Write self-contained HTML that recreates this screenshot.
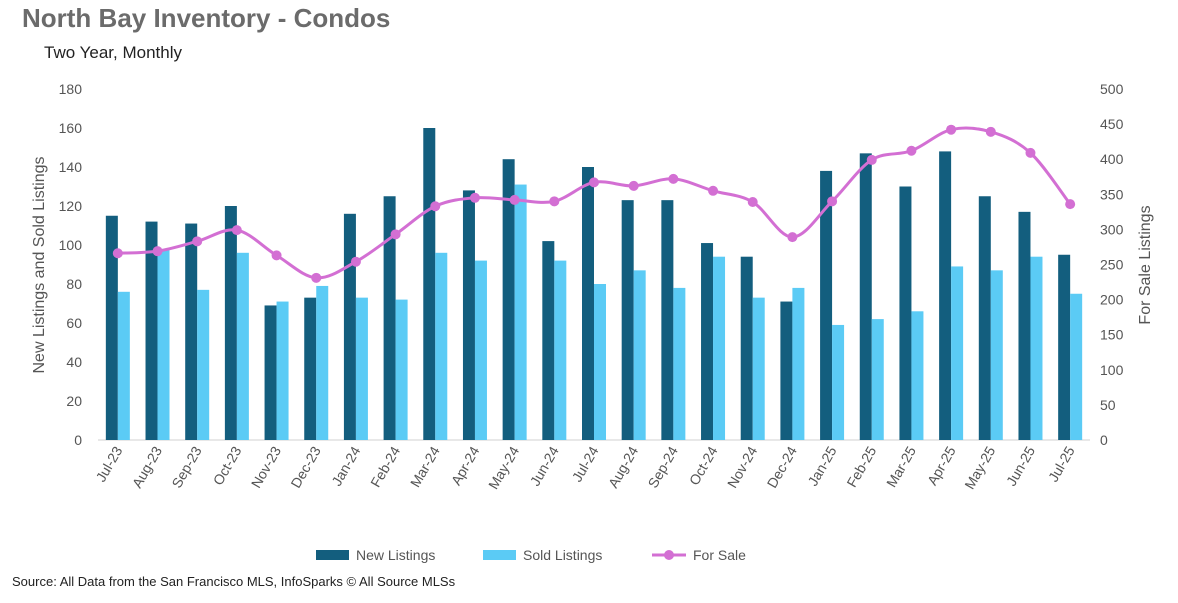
<!DOCTYPE html>
<html><head><meta charset="utf-8"><style>
body{margin:0;background:#fff;font-family:"Liberation Sans",sans-serif;}
svg text{font-family:"Liberation Sans",sans-serif;}
</style></head><body>
<svg id="c" width="1178" height="598">
<text x="22" y="27" font-size="26" font-weight="bold" fill="#6b6b6b">North Bay Inventory - Condos</text>
<text x="44" y="58" font-size="17" fill="#222">Two Year, Monthly</text>
<text transform="translate(44,265) rotate(-90)" text-anchor="middle" font-size="16" fill="#555">New Listings and Sold Listings</text>
<text transform="translate(1150,265) rotate(-90)" text-anchor="middle" font-size="16" fill="#555">For Sale Listings</text>
<g id="g"></g>
<g>
<rect x="316" y="550" width="33" height="10" fill="#135e7e"/>
<text x="356" y="560" font-size="14" fill="#555">New Listings</text>
<rect x="483" y="550" width="33" height="10" fill="#5bcbf5"/>
<text x="523" y="560" font-size="14" fill="#555">Sold Listings</text>
<line x1="652" y1="555" x2="686" y2="555" stroke="#d36fd3" stroke-width="3"/>
<circle cx="669" cy="555" r="5" fill="#d36fd3"/>
<text x="693" y="560" font-size="14" fill="#555">For Sale</text>
</g>
<text x="12" y="586" font-size="13" fill="#222">Source: All Data from the San Francisco MLS, InfoSparks © All Source MLSs</text>
</svg>
<script>
const categories=["Jul-23","Aug-23","Sep-23","Oct-23","Nov-23","Dec-23","Jan-24","Feb-24","Mar-24","Apr-24","May-24","Jun-24","Jul-24","Aug-24","Sep-24","Oct-24","Nov-24","Dec-24","Jan-25","Feb-25","Mar-25","Apr-25","May-25","Jun-25","Jul-25"];
const newListings=[115,112,111,120,69,73,116,125,160,128,144,102,140,123,123,101,94,71,138,147,130,148,125,117,95];
const soldListings=[76,98,77,96,71,79,73,72,96,92,131,92,80,87,78,94,73,78,59,62,66,89,87,94,75];
const forSale=[266,269,283,299,263,231,254,293,333,345,342,340,367,362,372,355,339,289,340,399,412,442,439,409,336];
const leftTicks=[0,20,40,60,80,100,120,140,160,180];
const rightTicks=[0,50,100,150,200,250,300,350,400,450,500];
const NS="http://www.w3.org/2000/svg",g=document.getElementById('g');
const X0=98,X1=1090,Y0=440,Y1=89,step=(X1-X0)/categories.length;
const xc=i=>X0+step*(i+0.5);
const yl=v=>Y0-(v/180)*(Y0-Y1);
const yr=v=>Y0-(v/500)*(Y0-Y1);
function mk(t,a){const e=document.createElementNS(NS,t);for(const k in a)e.setAttribute(k,a[k]);g.appendChild(e);return e;}
leftTicks.forEach(v=>{const t=mk('text',{x:82,y:yl(v)+5,'text-anchor':'end','font-size':14,fill:'#555'});t.textContent=v;

});
rightTicks.forEach(v=>{const t=mk('text',{x:1100,y:yr(v)+5,'font-size':14,fill:'#555'});t.textContent=v;

});
const ax=mk('line',{x1:X0,x2:X1,y1:Y0,y2:Y0,stroke:'#d0d0d0'});


const bw=12;
categories.forEach((c,i)=>{
 const b1=mk('rect',{x:xc(i)-bw,y:yl(newListings[i]),width:bw,height:Y0-yl(newListings[i]),fill:'#135e7e'});
 
 
 const b2=mk('rect',{x:xc(i),y:yl(soldListings[i]),width:bw,height:Y0-yl(soldListings[i]),fill:'#5bcbf5'});
 
 
 const t=mk('text',{transform:`translate(${xc(i)+5},450) rotate(-60)`,'text-anchor':'end','font-size':14,fill:'#555'});
 t.textContent=c;
 
 
});
const pts=forSale.map((v,i)=>[xc(i),yr(v)]);
let d=`M${pts[0][0]},${pts[0][1]}`;
for(let i=0;i<pts.length-1;i++){const p0=pts[Math.max(0,i-1)],p1=pts[i],p2=pts[i+1],p3=pts[Math.min(pts.length-1,i+2)];
 d+=` C${p1[0]+(p2[0]-p0[0])/6},${p1[1]+(p2[1]-p0[1])/6} ${p2[0]-(p3[0]-p1[0])/6},${p2[1]-(p3[1]-p1[1])/6} ${p2[0]},${p2[1]}`;}
const ln=mk('path',{d:d,fill:'none',stroke:'#d36fd3','stroke-width':3});


pts.forEach((p,i)=>{const c=mk('circle',{cx:p[0],cy:p[1],r:5,fill:'#d36fd3'});
 
 });
</script>
</body></html>
